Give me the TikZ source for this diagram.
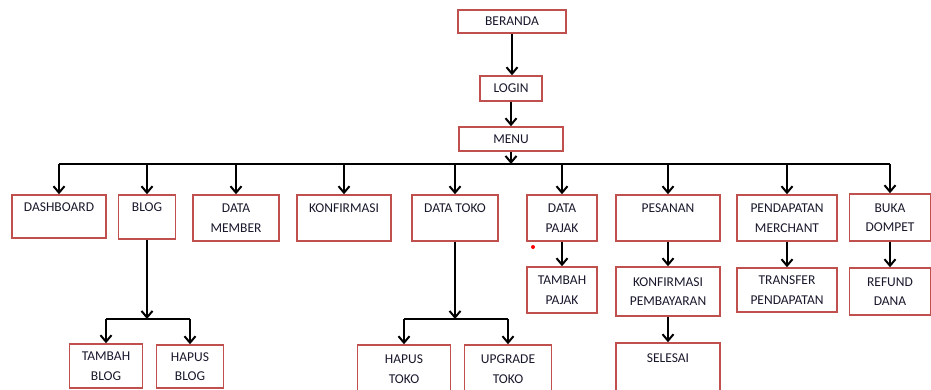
\documentclass[tikz,border=0pt]{standalone}
\usepackage{fontspec}
\setmainfont{Carlito}
\usetikzlibrary{arrows.meta}
\definecolor{merah}{RGB}{192,80,77}
\definecolor{tinta}{RGB}{24,24,44}
\tikzset{
    kotak/.style={draw=merah, line width=1.5pt, inner sep=0pt, align=center,
        text=tinta, font=\fontsize{13.5}{19.5}\selectfont},
    panah/.style={-{Straight Barb[length=6.5pt,width=11pt]}, line width=2pt},
    garis/.style={line width=2pt}
}
\begin{document}
\begin{tikzpicture}[x=1pt,y=-1pt]
    \useasboundingbox (0,0) rectangle (931,389);
    \clip (0,0) rectangle (931,389);

    % Draw the top boxes
    \node[kotak, minimum width=108, minimum height=23] (beranda) at (512,21.5) {BERANDA};
    \node[kotak, minimum width=62, minimum height=25] (login) at (511,88.5) {LOGIN};
    \node[kotak, minimum width=104, minimum height=24] (menu) at (511,139) {MENU};

    % Draw the menu items
    \node[kotak, minimum width=94, minimum height=43] (dash) at (59,216.5) {DASHBOARD\\~};
    \node[kotak, minimum width=57, minimum height=44] (blog) at (147,217) {BLOG\\~};
    \node[kotak, minimum width=86, minimum height=46] (member) at (236,218) {DATA\\MEMBER};
    \node[kotak, minimum width=94, minimum height=46] (konfirmasi) at (344,218) {KONFIRMASI\\~};
    \node[kotak, minimum width=86, minimum height=46] (toko) at (455,218) {DATA TOKO\\~};
    \node[kotak, minimum width=70, minimum height=46] (pajak) at (562,218) {DATA\\PAJAK};
    \node[kotak, minimum width=104, minimum height=46] (pesanan) at (668,218) {PESANAN\\~};
    \node[kotak, minimum width=100, minimum height=46] (merchant) at (787,218) {PENDAPATAN\\MERCHANT};
    \node[kotak, minimum width=81, minimum height=47] (buka) at (890,217.5) {BUKA\\DOMPET};

    % Draw the sub items
    \node[kotak, minimum width=70, minimum height=46] (tpajak) at (562,290) {TAMBAH\\PAJAK};
    \node[kotak, minimum width=104, minimum height=49] (bayar) at (668,291.5) {KONFIRMASI\\PEMBAYARAN};
    \node[kotak, minimum width=100, minimum height=44] (transfer) at (787,290) {TRANSFER\\PENDAPATAN};
    \node[kotak, minimum width=81, minimum height=47] (refund) at (890,291.5) {REFUND\\DANA};
    \node[kotak, minimum width=104, minimum height=50] (selesai) at (668,368) {SELESAI\\~};
    \node[kotak, minimum width=73, minimum height=44] (tblog) at (106,366) {TAMBAH\\BLOG};
    \node[kotak, minimum width=67, minimum height=43] (hblog) at (190,366.5) {HAPUS\\BLOG};
    \node[kotak, minimum width=93, minimum height=48] (htoko) at (404,369) {HAPUS\\TOKO};
    \node[kotak, minimum width=87, minimum height=48] (upgrade) at (508,369) {UPGRADE\\TOKO};

    % Draw the arrows down to the menu
    \coordinate (bus) at (511,164);
    \draw[panah] (beranda.south) -- (beranda.south |- login.north);
    \draw[panah] (login.south) -- (login.south |- menu.north);
    \draw[panah] (menu.south) -- (menu.south |- bus);
    \draw[garis] (dash.north |- bus) -- (buka.north |- bus);
    \foreach \n in {dash,blog,member,konfirmasi,toko,pajak,pesanan,merchant,buka} {
        \draw[panah] (\n.north |- bus) -- (\n.north);
    }

    % Draw the arrows below the menu
    \foreach \a/\b in {pajak/tpajak,pesanan/bayar,bayar/selesai,merchant/transfer,buka/refund} {
        \draw[panah] (\a.south) -- (\a.south |- \b.north);
    }

    % Draw the branches of blog and toko
    \coordinate (cabang) at (0,319);
    \foreach \a/\b/\c in {blog/tblog/hblog,toko/htoko/upgrade} {
        \draw[panah] (\a.south) -- (\a.south |- cabang);
        \draw[garis] (\b.north |- cabang) -- (\c.north |- cabang);
        \draw[panah] (\b.north |- cabang) -- (\b.north);
        \draw[panah] (\c.north |- cabang) -- (\c.north);
    }

    \fill[red] (533,247) circle (2pt);
\end{tikzpicture}
\end{document}
